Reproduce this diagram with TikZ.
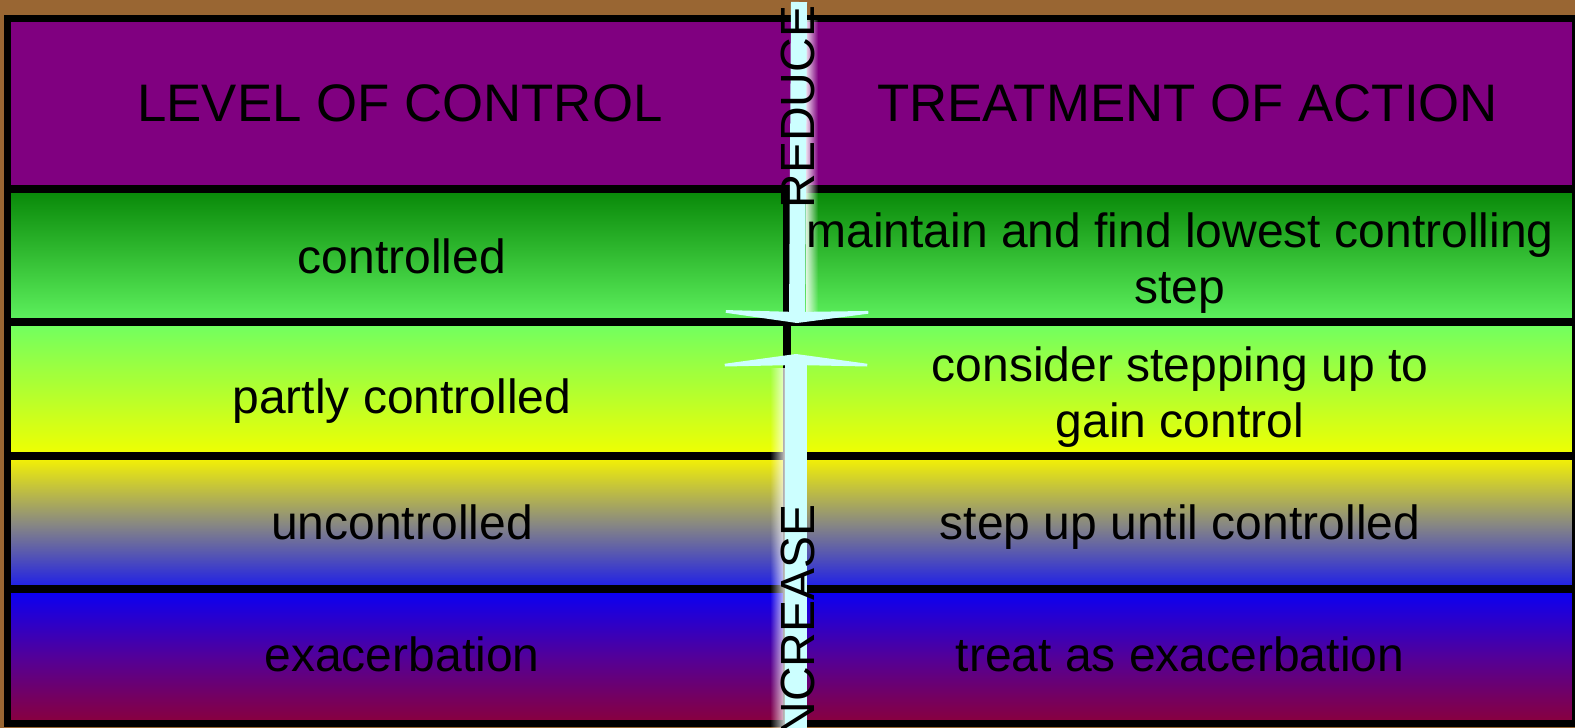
\documentclass[tikz,border=0pt]{standalone}
\usepackage{fontspec}
\setmainfont{Liberation Sans}
\usetikzlibrary{arrows.meta, fadings}

\definecolor{fondo}{HTML}{996633}
\definecolor{morado}{HTML}{800080}
\definecolor{verdeA}{HTML}{078707}
\definecolor{verdeB}{HTML}{5EF25E}
\definecolor{verdeC}{HTML}{6EFF62}
\definecolor{amarillo}{HTML}{F2FF00}
\definecolor{amarilloB}{HTML}{F7F500}
\definecolor{gris}{HTML}{8A8A80}
\definecolor{azulA}{HTML}{1C1CEA}
\definecolor{azulB}{HTML}{0800F6}
\definecolor{violeta}{HTML}{52009A}
\definecolor{granate}{HTML}{8A003C}
\definecolor{celeste}{HTML}{CCFFFF}

\tikzfading[name=glowright, left color=transparent!15, right color=transparent!100]
\tikzfading[name=glowleft, left color=transparent!100, right color=transparent!15]

\begin{document}
\begin{tikzpicture}[x=1pt, y=-1pt, line width=8pt,
  celltext/.style={font=\fontsize{48}{56}\selectfont, align=center, inner sep=0pt},
  headtext/.style={font=\fontsize{52.8}{60}\selectfont, inner sep=0pt},
  sidetext/.style={font=\fontsize{48}{56}\selectfont, inner sep=0pt, rotate=90},
  arrowshaft/.style={draw=celeste, -{Stealth[length=13pt, width=190pt, inset=2pt]}}]
  \useasboundingbox (0,0) rectangle (1575,728);
  \fill[fondo] (0,0) rectangle (1575,728);
  % filas con degradado
  \fill[morado] (7,18) rectangle (1575,189);
  \shade[top color=verdeA, bottom color=verdeB] (7,189) rectangle (1575,321.5);
  \shade[top color=verdeC, bottom color=amarillo] (7,321.5) rectangle (1575,456);
  \shade[top color=amarilloB, bottom color=azulA, middle color=gris] (7,456) rectangle (1575,589);
  \shade[top color=azulB, bottom color=granate, middle color=violeta] (7,589) rectangle (1575,723);
  % rejilla
  \foreach \y in {189,321.5,456,589}{\draw (7,\y) -- (1575,\y);}
  \draw (787,189) -- (787,723);
  \draw[line width=7pt] (7.5,18) rectangle (1575,723);
  % flechas
  \coordinate (redtop) at (799,2);
  \coordinate (redtip) at (797,323);
  \coordinate (inctail) at (796,745);
  \coordinate (inctip) at (796,354);
  \fill[white, path fading=glowright] (806,20) rectangle (818,318);
  \fill[white, path fading=glowleft] (770,368) rectangle (786,728);
  \draw[arrowshaft, line width=16pt] (redtop) -- (redtip);
  \draw[arrowshaft, line width=22pt] (inctail) -- (inctip);
  \node[sidetext] (reduce) at (797.5,107) {REDUCE};
  \node[sidetext] (increase) at (797.5,627) {INCREASE};
  % textos
  \node[headtext] (levelhead) at (400,103) {LEVEL OF CONTROL};
  \node[headtext] (treathead) at (1187.5,103) {TREATMENT OF ACTION};
  \node[celltext, anchor=base] (lvl1) at (402,273) {controlled};
  \node[celltext, anchor=base] (lvl2) at (402,413) {partly controlled};
  \node[celltext, anchor=base] (lvl3) at (402,539) {uncontrolled};
  \node[celltext, anchor=base] (lvl4) at (402,671) {exacerbation};
  \node[celltext, anchor=base] (act1) at (1180,303) {maintain and find lowest controlling\\step};
  \node[celltext, anchor=base] (act2) at (1180,437) {consider stepping up to\\gain control};
  \node[celltext, anchor=base] (act3) at (1180,539) {step up until controlled};
  \node[celltext, anchor=base] (act4) at (1180,671) {treat as exacerbation};
\end{tikzpicture}
\end{document}
